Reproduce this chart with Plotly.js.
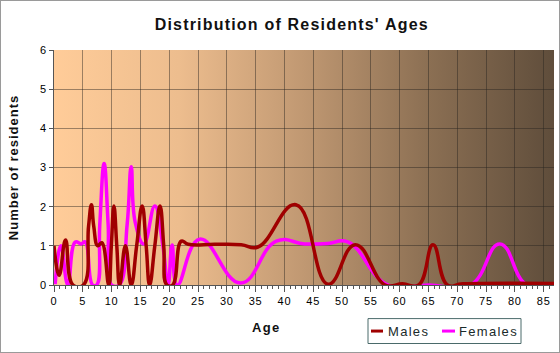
<!DOCTYPE html>
<html>
<head>
<meta charset="utf-8">
<script src="https://cdn.plot.ly/plotly-3.0.1.min.js"></script>
<style>
  html, body { margin: 0; padding: 0; background: #ffffff; }
  #wrap { position: relative; width: 560px; height: 353px; }
  #chart { width: 560px; height: 353px; }
  #frame { position: absolute; left: 0; top: 0; width: 558px; height: 351px; border: 1px solid #9a9a9a; pointer-events: none; }
  .gtitle { letter-spacing: 1.2px; }
  .ytitle { letter-spacing: 1px; }
  .annotation-text { letter-spacing: 1.3px; }
  .xtick text, .ytick text { letter-spacing: 0.8px; }
</style>
</head>
<body>
<div id="wrap">
  <div id="chart"></div>
  <div id="frame"></div>
</div>
<script>
// Values (age in years, number of residents)
const maleAges = [0, 0.9, 2.0, 3.3, 5.1, 6.0, 6.5, 6.9, 7.6, 8.3, 9.5, 9.95, 10.4, 10.9, 11.4, 12.4, 13.4, 14.35, 15.3, 16.0, 16.6, 17.5, 18.4, 19.05, 19.6, 20.6, 22.1, 23.3, 28, 32.5, 35.4, 42.0, 47.6, 52.3, 57.5, 60.5, 63.3, 65.8, 68.3, 71, 87];
const maleCounts = [1.0, 0.25, 1.15, 0, 0, 1.5, 2.05, 1.5, 1.0, 1.08, 0, 1.0, 2.02, 1.0, 0, 1.0, 0, 1.0, 2.02, 1.0, 0, 1.0, 2.02, 1.0, 0, 0, 1.12, 1.04, 1.04, 1.03, 0.97, 2.05, 0.02, 1.03, 0, 0.03, 0, 1.03, 0, 0.03, 0.04];

const femaleAges = [0.2, 1.2, 2.4, 3.7, 4.7, 5.4, 6.7, 7.4, 7.95, 8.7, 9.4, 10.0, 11.3, 12.7, 13.4, 14.1, 15.6, 17.5, 18.9, 19.8, 20.5, 21.4, 25.3, 32.4, 38.6, 43.5, 47.5, 51.0, 58.0, 65, 72.3, 77.4, 82.1, 87];
const femaleCounts = [0.02, 1.0, 0, 1.1, 1.05, 1.1, 0, 0, 1.55, 3.1, 1.55, 0, 0, 1.55, 3.02, 1.6, 1.05, 2.02, 1.0, 0, 1.02, 0, 1.17, 0.05, 1.12, 1.05, 1.06, 1.1, 0, 0, 0, 1.05, 0, 0];

const seriesNames = ['Males', 'Females'];
const chartTitle = "Distribution of Residents' Ages";
const xTitle = 'Age';
const yTitle = 'Number of residents';

const maleColor = '#a00000';
const femaleColor = '#ff00ff';
const font = '"Liberation Sans", Arial, sans-serif';

const gradSvg = "<svg xmlns='http://www.w3.org/2000/svg' width='500' height='235' preserveAspectRatio='none'>" +
  "<defs><linearGradient id='g' x1='0' x2='1' y1='0' y2='0'>" +
  "<stop offset='0' stop-color='#ffcc99'/>" +
  "<stop offset='0.25' stop-color='#edbd8e'/>" +
  "<stop offset='0.5' stop-color='#c09872'/>" +
  "<stop offset='0.75' stop-color='#8b6f53'/>" +
  "<stop offset='1' stop-color='#5f4d3b'/>" +
  "</linearGradient></defs><rect x='0' y='0' width='500' height='235' fill='url(#g)'/></svg>";

const traces = [
  { x: maleAges, y: maleCounts, name: seriesNames[0], type: 'scatter', mode: 'lines',
    line: { color: maleColor, width: 3.5, shape: 'spline', smoothing: 1.3 }, hoverinfo: 'x+y+name' },
  { x: femaleAges, y: femaleCounts, name: seriesNames[1], type: 'scatter', mode: 'lines',
    line: { color: femaleColor, width: 3.5, shape: 'spline', smoothing: 1.3 }, hoverinfo: 'x+y+name' }
];
// draw males on top of females as in the reference
traces.reverse();

const gridCol = 'rgba(40,35,30,0.45)';
const layout = {
  width: 560, height: 353,
  margin: { l: 54, r: 6, t: 50, b: 68 },
  paper_bgcolor: 'rgba(0,0,0,0)',
  plot_bgcolor: '#ffcc99',
  showlegend: false,
  font: { family: font, size: 11, color: '#000' },
  title: { text: chartTitle, font: { family: font, size: 16, color: '#111', weight: 'bold' },
           x: 0.521, xref: 'container', xanchor: 'center', y: 0.932, yref: 'container', yanchor: 'middle' },
  xaxis: {
    range: [0, 86.8], dtick: 5, tick0: 0, showgrid: true, gridcolor: gridCol, gridwidth: 1,
    ticks: 'outside', ticklen: 6, tickcolor: '#555', showline: true, linecolor: '#555', linewidth: 1,
    zeroline: false, tickfont: { family: font, size: 11, color: '#000' },
    minor: { dtick: 1, ticks: 'outside', ticklen: 3, tickcolor: '#555', showgrid: false },
    fixedrange: true
  },
  yaxis: {
    range: [0, 6], dtick: 1, tick0: 0, showgrid: true, gridcolor: gridCol, gridwidth: 1,
    ticks: 'outside', ticklen: 4, tickcolor: '#555', showline: true, linecolor: '#555', linewidth: 1,
    zeroline: false, tickfont: { family: font, size: 11, color: '#000' },
    title: { text: yTitle, font: { family: font, size: 13, color: '#111', weight: 'bold' }, standoff: 18 },
    fixedrange: true
  },
  images: [{
    source: 'data:image/svg+xml;charset=utf-8,' + encodeURIComponent(gradSvg),
    xref: 'paper', yref: 'paper', x: 0, y: 1, sizex: 1, sizey: 1,
    sizing: 'stretch', xanchor: 'left', yanchor: 'top', layer: 'below'
  }],
  shapes: [
    { type: 'rect', xref: 'paper', yref: 'paper', x0: 0.628, x1: 0.934, y0: -0.143, y1: -0.249,
      line: { color: '#4a6a6a', width: 1 }, fillcolor: 'rgba(0,0,0,0)' },
    { type: 'line', xref: 'paper', yref: 'paper', x0: 0.634, x1: 0.658, y0: -0.196, y1: -0.196,
      line: { color: maleColor, width: 3 } },
    { type: 'line', xref: 'paper', yref: 'paper', x0: 0.776, x1: 0.802, y0: -0.196, y1: -0.196,
      line: { color: femaleColor, width: 3 } }
  ],
  annotations: [
    { text: xTitle, xref: 'paper', yref: 'paper', x: 0.424, y: -0.179, xanchor: 'center', yanchor: 'middle',
      showarrow: false, font: { family: font, size: 13, color: '#111', weight: 'bold' } },
    { text: seriesNames[0], xref: 'paper', yref: 'paper', x: 0.664, y: -0.196, xanchor: 'left', yanchor: 'middle',
      showarrow: false, font: { family: font, size: 13, color: '#1a2a2a' } },
    { text: seriesNames[1], xref: 'paper', yref: 'paper', x: 0.806, y: -0.196, xanchor: 'left', yanchor: 'middle',
      showarrow: false, font: { family: font, size: 13, color: '#1a2a2a' } }
  ]
};

Plotly.newPlot('chart', traces, layout, { displayModeBar: false, staticPlot: true });
</script>
</body>
</html>
